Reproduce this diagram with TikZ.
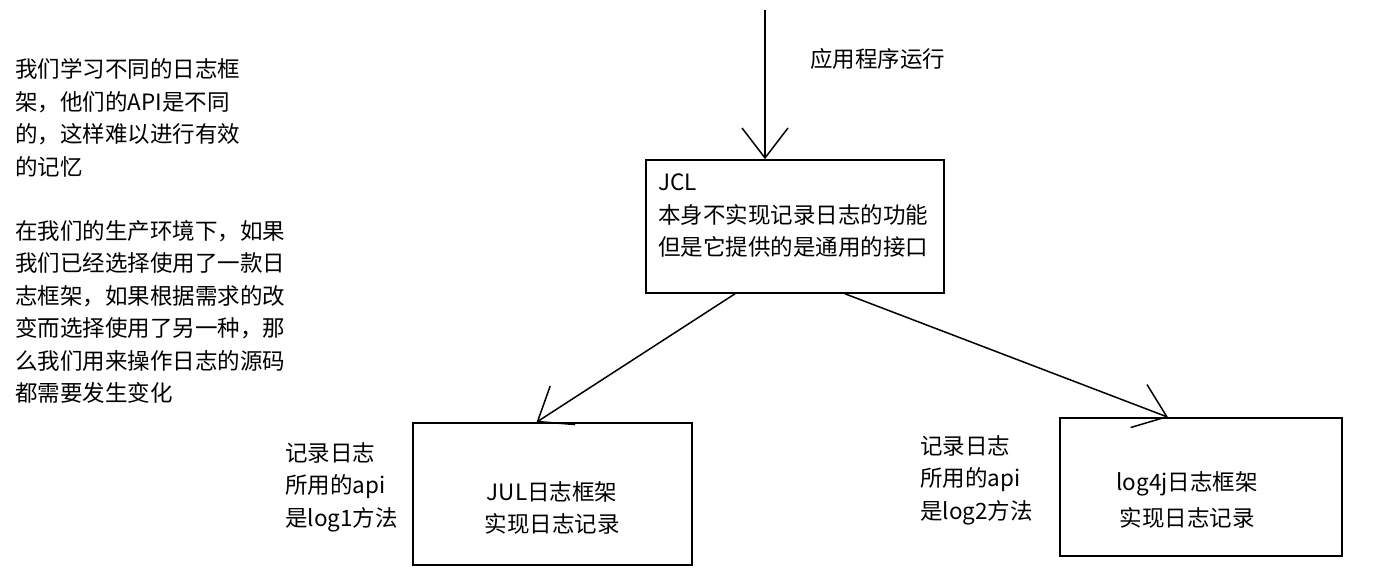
\documentclass[tikz,border=0pt]{standalone}
\usepackage{fontspec}
\newfontfamily\cjk{Noto Sans CJK SC}
\usetikzlibrary{arrows.meta}

\begin{document}
\begin{tikzpicture}[x=1pt, y=-1pt,
  txt/.style={font=\cjk\fontsize{22.5}{32.5}\selectfont, align=left, inner sep=0pt},
  box/.style={draw=black, line width=1.6pt, inner sep=0pt},
  link/.style={line width=1.5pt, -{Straight Barb[length=30pt, width=46pt, line width=1.5pt]}}]

  \useasboundingbox (0,0) rectangle (1373,579);
  \fill[white] (0,0) rectangle (1373,579);

  % notes on the left
  \node[txt, anchor=west] (note1) at (15,118) {我们学习不同的日志框\\架，他们的API是不同\\的，这样难以进行有效\\的记忆};
  \node[txt, anchor=west] (note2) at (15,312) {在我们的生产环境下，如果\\我们已经选择使用了一款日\\志框架，如果根据需求的改\\变而选择使用了另一种，那\\么我们用来操作日志的源码\\都需要发生变化};

  % JCL
  \node[txt, anchor=west] (run) at (810,59) {应用程序运行};
  \node[box, minimum width=298pt, minimum height=133pt] (jcl) at (795,226.5) {};
  \node[txt, anchor=west] (jcltext) at (658,216) {JCL\\本身不实现记录日志的功能\\但是它提供的是通用的接口};

  \coordinate (start) at (765,10);
  \draw[link] (start) -- (start |- jcl.north);

  % JUL
  \node[box, minimum width=279pt, minimum height=142pt] (jul) at (552.5,494) {};
  \node[txt, align=center] (jultext) at (552,508) {JUL日志框架\\实现日志记录};
  \node[txt, anchor=west] (api1) at (285,487) {记录日志\\所用的api\\是log1方法};

  % log4j
  \node[box, minimum width=282pt, minimum height=138pt] (log4j) at (1201,487) {};
  \node[txt, align=center] (log4jtext) at (1187,500) {log4j日志框架\\[4pt]实现日志记录};
  \node[txt, anchor=west] (api2) at (920,480) {记录日志\\所用的api\\是log2方法};

  \draw[link] ([xshift=-60pt]jcl.south) -- ([xshift=-16pt]jul.north);
  \draw[link] ([xshift=50pt]jcl.south) -- ([xshift=-33pt]log4j.north);

\end{tikzpicture}
\end{document}
